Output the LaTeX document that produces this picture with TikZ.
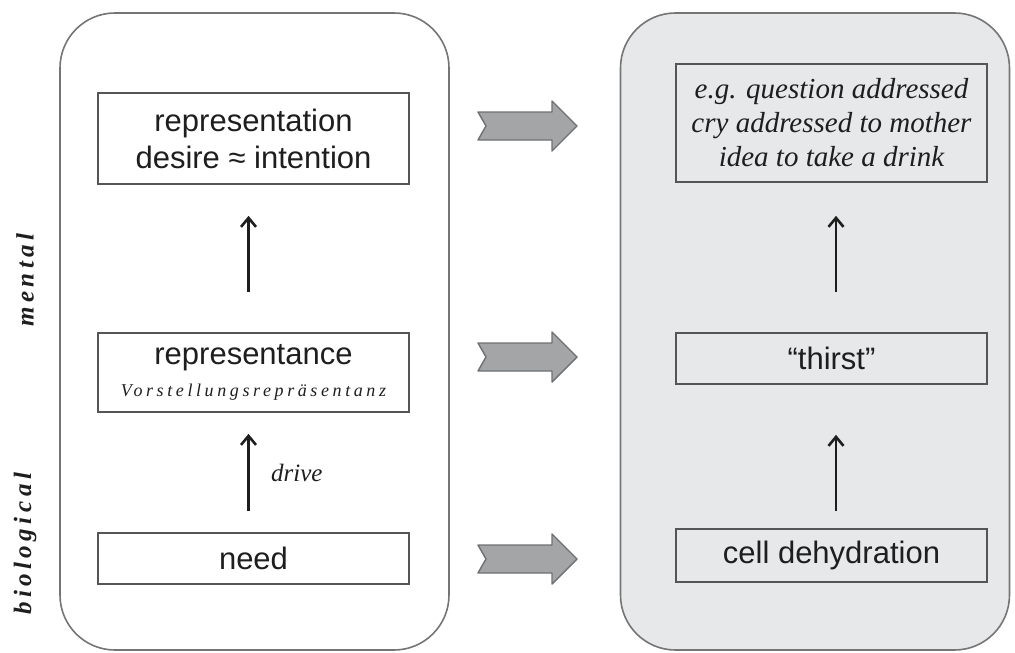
\documentclass[tikz,border=0pt]{standalone}
\usepackage{fontspec}
\setmainfont{Liberation Sans}
\newfontfamily\serifit{Liberation Serif}
\newfontfamily\spacedit[LetterSpace=20]{Liberation Serif}
\newfontfamily\sidefont[LetterSpace=18]{Liberation Serif}
\usetikzlibrary{arrows.meta}

\definecolor{panelgrey}{HTML}{E6E8E9}
\definecolor{boxline}{HTML}{555555}
\definecolor{panelline}{HTML}{757575}
\definecolor{blockfill}{HTML}{A3A5A7}
\definecolor{blockline}{HTML}{6E7072}
\definecolor{textgrey}{HTML}{1E1E1E}

\tikzset{
  panel/.style={draw=panelline, line width=1.6pt, rounded corners=55pt,
    minimum width=389pt, minimum height=637pt, inner sep=0pt},
  stage/.style={draw=boxline, line width=1.7pt, minimum width=311pt,
    align=center, inner sep=0pt, text=textgrey,
    font=\fontsize{31}{37}\selectfont},
  lift/.style={-{Straight Barb[length=9pt,width=15pt]}, line width=2.6pt,
    draw=textgrey},
  sidelabel/.style={rotate=90, text=textgrey,
    font=\sidefont\bfseries\itshape\fontsize{25}{30}\selectfont},
  blockarrow/.style={fill=blockfill, draw=blockline, line width=1.4pt,
    line join=round}
}

\begin{document}
\begin{tikzpicture}[x=1pt,y=-1pt]
\useasboundingbox (0,0) rectangle (1015,653);
% two panels
\node[panel] (bodyside) at (254.5,331.5) {};
\node[panel, fill=panelgrey] (thirstside) at (815,331.5) {};

% left column
\node[stage, minimum height=91pt] (repr) at (253.5,138.5)
  {representation\\desire ≈ intention};
\node[stage, minimum height=79pt] (reprs) at (253.5,372.5)
  {representance\\[-5pt]{\spacedit\itshape\fontsize{18}{20}\selectfont Vorstellungsrepräsentanz}};
\node[stage, minimum height=51pt] (need) at (253.5,558.5) {need};

% right column
\node[stage, minimum height=118pt, font=\serifit\itshape\fontsize{29}{34}\selectfont]
  (example) at (831.5,123) {e.g. question addressed\\cry addressed to mother\\idea to take a drink};
\node[stage, minimum height=51pt] (thirst) at (831.5,358.5) {“thirst”};
\node[stage, minimum height=53pt] (cell) at (831.5,555.5) {cell dehydration};

% vertical arrows
\draw[lift, shorten <=40pt, shorten >=31pt] ([xshift=-5pt]reprs.north) -- ([xshift=-5pt]repr.south);
\draw[lift, shorten <=21pt, shorten >=21pt] ([xshift=-5pt]need.north) --
  node[right=18pt, text=textgrey, font=\serifit\itshape\fontsize{25}{28}\selectfont] {drive}
  ([xshift=-5pt]reprs.south);
\draw[lift, shorten <=40pt, shorten >=33pt] ([xshift=4.5pt]thirst.north) -- ([xshift=4.5pt]example.south);
\draw[lift, shorten <=17pt, shorten >=50pt] ([xshift=4.5pt]cell.north) -- ([xshift=4.5pt]thirst.south);

% grey block arrows
\foreach \y in {126,357,559}
  \draw[blockarrow] (478,\y-14) -- (552,\y-14) -- (552,\y-25) -- (577,\y)
    -- (552,\y+25) -- (552,\y+14) -- (478,\y+14) -- (486,\y) -- cycle;

% side labels
\node[sidelabel] (mental) at (25,280) {mental};
\node[sidelabel] (bio) at (25,544) {biological};
\end{tikzpicture}
\end{document}
